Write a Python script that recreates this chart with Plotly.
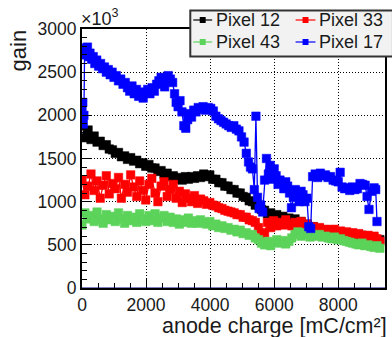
import plotly.graph_objects as go

# ---- data: gain vs accumulated anode charge ----
charge = [
    0, 90, 190, 280, 380, 470, 570, 660, 760, 850,
    950, 1040, 1140, 1230, 1330, 1420, 1520, 1610, 1710, 1800,
    1900, 1990, 2090, 2180, 2280, 2370, 2470, 2560, 2660, 2750,
    2850, 2940, 3040, 3130, 3230, 3320, 3420, 3510, 3610, 3700,
    3800, 3890, 3990, 4080, 4180, 4270, 4370, 4460, 4560, 4650,
    4750, 4840, 4940, 5030, 5130, 5220, 5320, 5410, 5510, 5600,
    5700, 5790, 5890, 5980, 6080, 6170, 6270, 6360, 6460, 6550,
    6650, 6740, 6840, 6930, 7030, 7120, 7220, 7310, 7410, 7500,
    7600, 7690, 7790, 7880, 7980, 8070, 8170, 8260, 8360, 8450,
    8550, 8640, 8740, 8830, 8930, 9020, 9120, 9210, 9300,
]

gain_px12 = [
    1880, 1740, 1830, 1720, 1760, 1690, 1700, 1650, 1660, 1610,
    1600, 1560, 1570, 1520, 1530, 1490, 1510, 1470, 1480, 1440,
    1450, 1410, 1430, 1390, 1390, 1350, 1360, 1320, 1330, 1290,
    1300, 1260, 1280, 1250, 1290, 1260, 1290, 1270, 1300, 1280,
    1320, 1290, 1310, 1260, 1260, 1220, 1220, 1180, 1180, 1140,
    1140, 1100, 1100, 1060, 1050, 1010, 1000, 960, 960, 910,
    900, 860, 870, 830, 850, 810, 830, 790, 810, 780,
    800, 760, 770, 730, 740, 700, 710, 680, 690, 660,
    670, 640, 660, 630, 650, 620, 640, 610, 630, 600,
    620, 590, 610, 580, 590, 560, 570, 550, 560,
]

gain_px33 = [
    1250, 1080, 1180, 1320, 1130, 1240, 1040, 1190, 1300, 1090,
    1210, 1150, 1280, 1040, 1200, 1110, 1310, 1170, 1060, 1240,
    1130, 1020, 1200, 1270, 1100, 1000, 1180, 1230, 1060, 1140,
    1200, 1040, 1120, 990, 1090, 1040, 1000, 1070, 980, 1030,
    1010, 970, 990, 960, 950, 930, 920, 900, 890, 880,
    870, 850, 850, 820, 820, 790, 780, 760, 700, 620,
    640, 760, 700, 780, 720, 760, 730, 790, 740, 720,
    760, 720, 770, 700, 740, 690, 710, 670, 700, 660,
    680, 670, 660, 680, 650, 660, 640, 650, 630, 640,
    620, 630, 610, 600, 610, 590, 600, 570, 540,
]

gain_px43 = [
    730, 870, 800, 840, 770, 880, 800, 750, 850, 790,
    830, 770, 870, 800, 750, 840, 780, 820, 760, 860,
    800, 770, 840, 780, 860, 760, 810, 840, 770, 820,
    760, 800, 740, 790, 760, 810, 750, 780, 750, 790,
    760, 740, 770, 720, 740, 700, 720, 690, 700, 670,
    680, 650, 670, 630, 640, 610, 620, 580, 560, 520,
    500, 540, 490, 530, 560, 520, 550, 510, 540, 580,
    620, 650, 600, 640, 620, 590, 610, 600, 620, 590,
    600, 580, 570, 590, 560, 570, 550, 540, 530, 520,
    510, 500, 520, 490, 500, 480, 470, 490, 460,
]

charge_px17 = [
    0, 10, 25, 40, 60, 80, 110, 140, 170, 210,
    250, 300, 350, 400, 460, 520, 580, 640, 700, 760,
    820, 880, 940, 1000, 1070, 1140, 1210, 1280, 1350, 1420,
    1490, 1560, 1630, 1700, 1770, 1840, 1910, 1980, 2050, 2120,
    2190, 2260, 2330, 2400, 2470, 2540, 2580, 2620, 2690, 2760,
    2830, 2890, 2940, 3000, 3060, 3120, 3180, 3240, 3300, 3360,
    3420, 3490, 3560, 3630, 3700, 3780, 3860, 3940, 4020, 4100,
    4180, 4260, 4340, 4420, 4500, 4580, 4660, 4740, 4820, 4900,
    4980, 5060, 5130, 5200, 5260, 5320, 5380, 5430, 5480, 5530,
    5580, 5640, 5700, 5760, 5820, 5880, 5940, 6000, 6060, 6120,
    6180, 6240, 6300, 6360, 6420, 6480, 6540, 6600, 6660, 6720,
    6780, 6840, 6900, 6960, 7020, 7080, 7140, 7200, 7280, 7360,
    7440, 7520, 7600, 7680, 7760, 7840, 7920, 8000, 8060, 8120,
    8200, 8280, 8360, 8440, 8520, 8600, 8680, 8760, 8840, 8900,
    8960, 9040, 9120, 9170, 9210,
]

gain_px17 = [
    2100, 1920, 2150, 1900, 2000, 2700, 2780, 2720, 2790, 2680,
    2720, 2650, 2680, 2600, 2640, 2570, 2600, 2540, 2560, 2500,
    2530, 2470, 2500, 2440, 2460, 2400, 2420, 2360, 2380, 2320,
    2280, 2340, 2250, 2300, 2220, 2270, 2200, 2260, 2300, 2250,
    2320, 2280, 2360, 2400, 2440, 2380, 2330, 2420, 2460, 2420,
    2380, 2250, 2150, 2100, 2170, 2040, 1880, 1850, 1950, 2020,
    1980, 2060, 2040, 2090, 2070, 2100, 2060, 2090, 2080, 2050,
    1990, 1960, 1940, 1920, 1900, 1880, 1860, 1880, 1840, 1820,
    1750, 1690, 1560, 1460, 1400, 1380, 1140, 1990, 1050, 920,
    960, 880, 1250, 1500, 1320, 1420, 1260, 1380, 1300, 1200,
    1250, 1220, 1150, 1230, 1180, 1100, 930, 1050, 1140, 1060,
    1000, 1120, 1080, 1000, 1040, 710, 690, 1290, 1320, 1280,
    1330, 1300, 1310, 1280, 1290, 1250, 1240, 1230, 1340, 1170,
    1150, 1160, 1130, 1170, 1140, 1150, 1210, 1200, 1190, 1060,
    910, 1120, 1160, 1140, 770,
]

series = [
    ("Pixel 12", charge, gain_px12, "#000000"),
    ("Pixel 33", charge, gain_px33, "#ff0000"),
    ("Pixel 43", charge, gain_px43, "#5cd35a"),
    ("Pixel 17", charge_px17, gain_px17, "#0000ff"),
]

FONT = "Liberation Sans, Arial, Helvetica, sans-serif"
W, H = 392, 337
L, R, T, B = 82, 387, 29, 288  # plot frame in pixels


def px_x(p):
    return (p - L) / (R - L)


def px_y(p):
    return (B - p) / (B - T)


fig = go.Figure()
for name, xs, ys, col in series:
    fig.add_trace(go.Scatter(
        x=xs, y=ys, name=name, mode="lines+markers",
        line=dict(color=col, width=1.3),
        marker=dict(symbol="square", size=8.5, color=col,
                    line=dict(width=0.5, color=col)),
        showlegend=False,
    ))

axis_common = dict(
    showline=True, mirror=True, linecolor="black", linewidth=2,
    ticks="inside", ticklen=9, tickcolor="black", tickwidth=1,
    showgrid=True, gridcolor="black", gridwidth=1, griddash="1px,2px",
    zeroline=False,
    tickfont=dict(family=FONT, size=17.5, color="#1a1a1a"),
)

fig.update_xaxes(
    range=[0, 9460], dtick=2000, tick0=0,
    minor=dict(dtick=500, ticklen=5, ticks="inside", tickcolor="black", showgrid=False),
    **axis_common,
)
fig.update_yaxes(
    range=[0, 3000], dtick=500, tick0=0,
    minor=dict(dtick=100, ticklen=5, ticks="inside", tickcolor="black", showgrid=False),
    **axis_common,
)

shapes = [
    # thin navy baseline just above the bottom frame
    dict(type="line", xref="x", yref="y", x0=0, x1=9460, y0=0, y1=0,
         ysizemode="pixel", yanchor=0,
         line=dict(color="#000080", width=1.2), layer="above"),
]

# legend box
shapes.append(dict(type="rect", xref="paper", yref="paper",
                   x0=px_x(191), x1=px_x(395), y0=px_y(56.5), y1=px_y(10.5),
                   fillcolor="#f2f2f2", line=dict(color="#333333", width=2),
                   layer="above"))

annotations = []
legend_slots = [
    ("Pixel 12", "#000000", 194, 213, 20),
    ("Pixel 33", "#ff0000", 297, 317, 20),
    ("Pixel 43", "#5cd35a", 194, 213, 42),
    ("Pixel 17", "#0000ff", 297, 317, 42),
]
for label, col, xa, xb, yc in legend_slots:
    shapes.append(dict(type="line", xref="paper", yref="paper",
                       x0=px_x(xa), x1=px_x(xb), y0=px_y(yc), y1=px_y(yc),
                       line=dict(color=col, width=1.2), layer="above"))
    xm = (xa + xb) / 2
    shapes.append(dict(type="rect", xref="paper", yref="paper",
                       x0=px_x(xm - 3), x1=px_x(xm + 3),
                       y0=px_y(yc + 3), y1=px_y(yc - 3),
                       fillcolor=col, line=dict(width=0), layer="above"))
    annotations.append(dict(text=label, xref="paper", yref="paper",
                            x=px_x(xb + 2), y=px_y(yc), xanchor="left",
                            yanchor="middle", showarrow=False,
                            font=dict(family=FONT, size=18, color="#1a1a1a")))

# axis titles and exponent marker
annotations.append(dict(text="anode charge [mC/cm\u00b2]", xref="paper",
                        yref="paper", x=px_x(391), y=px_y(325.5),
                        xanchor="right", yanchor="middle", showarrow=False,
                        font=dict(family=FONT, size=21.5, color="#1a1a1a")))
annotations.append(dict(text="gain", xref="paper", yref="paper",
                        x=px_x(19), y=px_y(50), textangle=-90,
                        xanchor="center", yanchor="middle", showarrow=False,
                        font=dict(family=FONT, size=22, color="#1a1a1a")))
annotations.append(dict(text="\u00d710<sup>3</sup>", xref="paper", yref="paper",
                        x=px_x(79), y=px_y(17), xanchor="left",
                        yanchor="middle", showarrow=False,
                        font=dict(family=FONT, size=18, color="#1a1a1a")))

fig.update_layout(
    width=W, height=H,
    margin=dict(l=L, r=W - R, t=T, b=H - B, pad=0),
    paper_bgcolor="white", plot_bgcolor="white",
    shapes=shapes, annotations=annotations,
    showlegend=False,
    font=dict(family=FONT, color="#1a1a1a"),
)

fig.write_html("out.html")
